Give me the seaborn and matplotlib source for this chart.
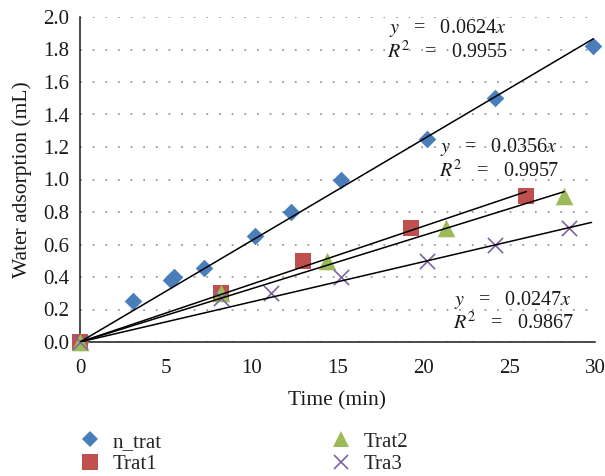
"""Water adsorption vs time, four treatments with linear trendlines through origin."""
import matplotlib as mpl
mpl.use("Agg")
import matplotlib.pyplot as plt
import numpy as np
import pandas as pd
import seaborn as sns

# ---- data ----
series_names = ["n_trat", "Trat1", "Trat2", "Tra3"]

time_n_trat = [0, 3.1, 5.3, 5.5, 7.2, 10.2, 12.3, 15.2, 20.2, 24.2, 29.9]
ads_n_trat = [0.0, 0.25, 0.38, 0.40, 0.455, 0.65, 0.80, 1.00, 1.25, 1.50, 1.82]

time_trat1 = [0, 8.2, 13.0, 19.3, 26.0]
ads_trat1 = [0.0, 0.30, 0.50, 0.70, 0.90]

time_trat2 = [0, 8.2, 14.4, 21.3, 28.2]
ads_trat2 = [0.0, 0.30, 0.50, 0.70, 0.90]

time_tra3 = [0, 8.2, 11.1, 15.2, 20.2, 24.2, 28.5]
ads_tra3 = [0.0, 0.27, 0.30, 0.40, 0.50, 0.60, 0.70]

# trendline slopes (y = a x) and the x where each drawn line stops
trend_slopes = [0.0624, 0.0356, 0.0328, 0.0247]
trend_end_x = [29.9, 26.0, 28.2, 29.8]

# equation labels
eq_slope_text = ["0.0624", "0.0356", "0.0247"]
eq_r2_text = ["0.9955", "0.9957", "0.9867"]

colors = {"n_trat": "#4A7EBB", "Trat1": "#C0504D", "Trat2": "#9BBB59", "Tra3": "#8064A2"}
markers = {"n_trat": "D", "Trat1": "s", "Trat2": "^", "Tra3": "x"}
sizes = {"n_trat": 80, "Trat1": 140, "Trat2": 160, "Tra3": 120}

frames = []
for name, t, a in [("n_trat", time_n_trat, ads_n_trat), ("Trat1", time_trat1, ads_trat1),
                   ("Trat2", time_trat2, ads_trat2), ("Tra3", time_tra3, ads_tra3)]:
    frames.append(pd.DataFrame({"Time": t, "Adsorption": a, "Series": name}))
df = pd.concat(frames, ignore_index=True)

sns.set_theme(style="white")
plt.rcParams["font.family"] = ["Liberation Serif", "DejaVu Serif"]
plt.rcParams["mathtext.fontset"] = "stix"

TXT = "#1a1a1a"

fig = plt.figure(figsize=(6.05, 4.76), dpi=100)
ax = fig.add_axes([80 / 605, 134 / 476, 515 / 605, 325 / 476])

# trendlines, drawn over the markers as in the reference
for name, slope, xend in zip(series_names, trend_slopes, trend_end_x):
    xs = np.array([0.0, xend])
    ax.plot(xs, slope * xs, color="black", lw=1.1, zorder=4)

for name in series_names:
    sub = df[df["Series"] == name]
    kw = dict(linewidth=0) if markers[name] != "x" else dict(linewidth=1.2)
    sns.scatterplot(data=sub, x="Time", y="Adsorption", ax=ax, marker=markers[name],
                    color=colors[name], s=sizes[name], label=name, zorder=3,
                    legend=False, **kw)

ax.set_xlim(0, 30)
ax.set_ylim(0, 2.0)
ax.set_xticks(np.arange(0, 31, 5))
ax.set_yticks(np.arange(0, 2.01, 0.2))
ax.set_yticklabels([f"{v:.1f}" for v in np.arange(0, 2.01, 0.2)])
ax.tick_params(axis="both", length=0, labelsize=15, colors=TXT)
ax.tick_params(axis="x", pad=12)
ax.tick_params(axis="y", pad=8)
ax.grid(axis="y", linestyle=(0, (1, 6)), color="#9a9a9a", lw=1.3)
ax.grid(axis="x", visible=False)
for side in ["top", "right"]:
    ax.spines[side].set_visible(False)
for side in ["left", "bottom"]:
    ax.spines[side].set_color(TXT)
    ax.spines[side].set_linewidth(1.1)
ax.set_axisbelow(True)
for c in ax.collections:
    c.set_clip_on(False)

ax.set_xlabel("Time (min)", fontsize=15.5, labelpad=10, color=TXT)
ax.set_ylabel("Water adsorption (mL)", fontsize=15.5, labelpad=8, color=TXT)

# equation annotations placed in data coordinates
eq_pos = [(18.0, 1.93), (21.0, 1.20), (21.8, 0.26)]
for (ex, ey), st, r2 in zip(eq_pos, eq_slope_text, eq_r2_text):
    ax.text(ex, ey, rf"$y$   =   {st}$x$", fontsize=14.5, ha="left", va="center", color=TXT)
    ax.text(ex - 0.1, ey - 0.145, rf"$R^2$   =   {r2}", fontsize=14.5, ha="left", va="center",
            color=TXT)

# legend below the axes, two columns
handles = []
for name in series_names:
    h = plt.Line2D([], [], linestyle="none", marker=markers[name], color=colors[name],
                   markersize=np.sqrt(sizes[name]) * 0.95,
                   markeredgewidth=1.2 if markers[name] == "x" else 0)
    handles.append(h)
fig.legend(handles, series_names, ncol=2, frameon=False, loc="upper left",
           bbox_to_anchor=(73 / 605, 1 - 428 / 476), fontsize=15,
           columnspacing=8.0, handletextpad=0.5, labelspacing=0.12, handlelength=1.2,
           borderaxespad=0, borderpad=0.2)

fig.savefig("out.png", dpi=100, facecolor="white")
